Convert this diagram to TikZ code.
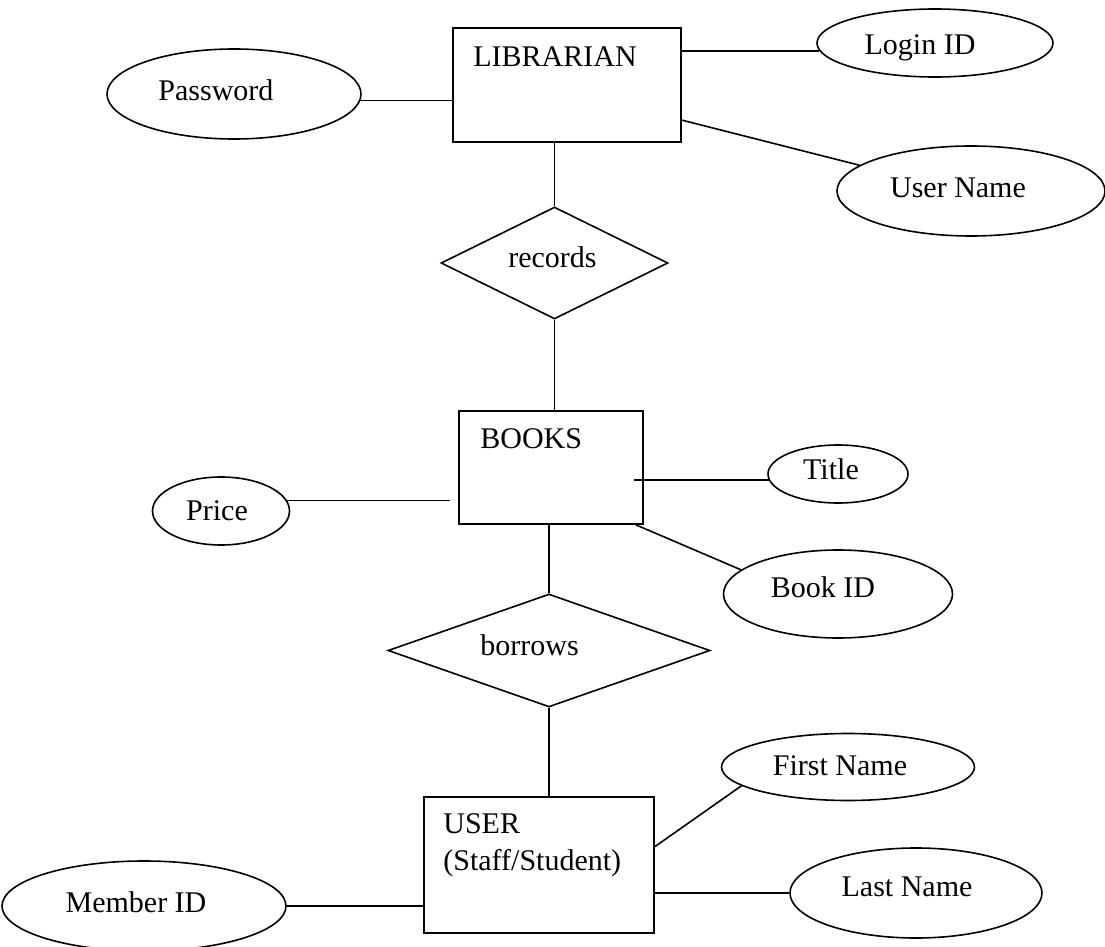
\documentclass[tikz,border=0pt]{standalone}
\usepackage{fontspec}
\setmainfont{Liberation Serif}
\usetikzlibrary{shapes.geometric,calc}
\begin{document}
\begin{tikzpicture}[x=0.5pt,y=-0.5pt,
  every node/.style={font=\fontsize{15pt}{18pt}\selectfont},
  ent/.style={draw, rectangle, inner sep=0pt, line width=0.8pt},
  rel/.style={draw, diamond, inner sep=0pt, line width=0.8pt},
  att/.style={draw, ellipse, inner sep=0pt, line width=0.8pt},
  lbl/.style={inner sep=0pt, anchor=base},
  lblw/.style={inner sep=0pt, anchor=base west},
  conn/.style={line width=0.8pt}]
\useasboundingbox (0,0) rectangle (1105,947);

% entities
\node[ent, minimum width=114pt, minimum height=57pt] (lib) at (567,85) {};
\node[lblw] (libT) at (473,67) {LIBRARIAN};
\node[ent, minimum width=92pt, minimum height=56.5pt] (books) at (551,467.5) {};
\node[lblw] (booksT) at (480,448) {BOOKS};
\node[ent, minimum width=115pt, minimum height=68pt] (user) at (539,865) {};
\node[lblw] (userT) at (443,833) {USER};
\node[lblw] (userT2) at (443,870) {(Staff/Student)};

% relationships
\node[rel, minimum width=113.5pt, minimum height=56pt] (rec) at (554.5,263) {};
\node[lbl] (recT) at (552.5,268) {records};
\node[rel, minimum width=161pt, minimum height=56.5pt] (bor) at (549,650.5) {};
\node[lblw] (borT) at (480,655) {borrows};

% attributes
\node[att, minimum width=118pt, minimum height=34pt] (login) at (935,43) {};
\node[lbl] (loginT) at (920,55) {Login ID};
\node[att, minimum width=134pt, minimum height=45pt] (uname) at (971,191) {};
\node[lbl] (unameT) at (958,198) {User Name};
\node[att, minimum width=127pt, minimum height=45pt] (pw) at (234,94) {};
\node[lbl] (pwT) at (216,101) {Password};
\node[att, minimum width=70pt, minimum height=29pt] (title) at (838,474) {};
\node[lbl] (titleT) at (831,480) {Title};
\node[att, minimum width=68.5pt, minimum height=34pt] (price) at (221,511) {};
\node[lbl] (priceT) at (217,520) {Price};
\node[att, minimum width=114.5pt, minimum height=44pt] (bookid) at (838,594) {};
\node[lbl] (bookidT) at (823,597) {Book ID};
\node[att, minimum width=126.5pt, minimum height=33.5pt] (first) at (848,767) {};
\node[lbl] (firstT) at (840,775) {First Name};
\node[att, minimum width=126pt, minimum height=45pt] (last) at (916,893) {};
\node[lbl] (lastT) at (907,896) {Last Name};
\node[att, minimum width=142pt, minimum height=45pt] (member) at (144,906) {};
\node[lbl] (memberT) at (136,912) {Member ID};

% connectors
\draw[conn] (login.184 -| lib.east) -- (login.184);
\draw[conn] (lib.-17.5) -- (uname.167);
\draw[conn] (pw.-3) -- (pw.-3 -| lib.west);
\draw[conn] (rec.north |- lib.south) -- (rec.north);
\draw[conn] (rec.south) -- (rec.south |- books.north);
\draw[conn] ([xshift=-5pt]title.185 -| books.east) -- (title.185);
\draw[conn] (price.9) -- ([xshift=-4pt]price.9 -| books.west);
\draw[conn] ([xshift=-4pt]books.south east) -- (bookid.166);
\draw[conn] (bor.north |- books.south) -- (bor.north);
\draw[conn] (bor.south) -- (bor.south |- user.north);
\draw[conn] (user.9.9) -- (first.190);
\draw[conn] (last.west -| user.east) -- (last.west);
\draw[conn] (member.east) -- (member.east -| user.west);
\end{tikzpicture}
\end{document}
